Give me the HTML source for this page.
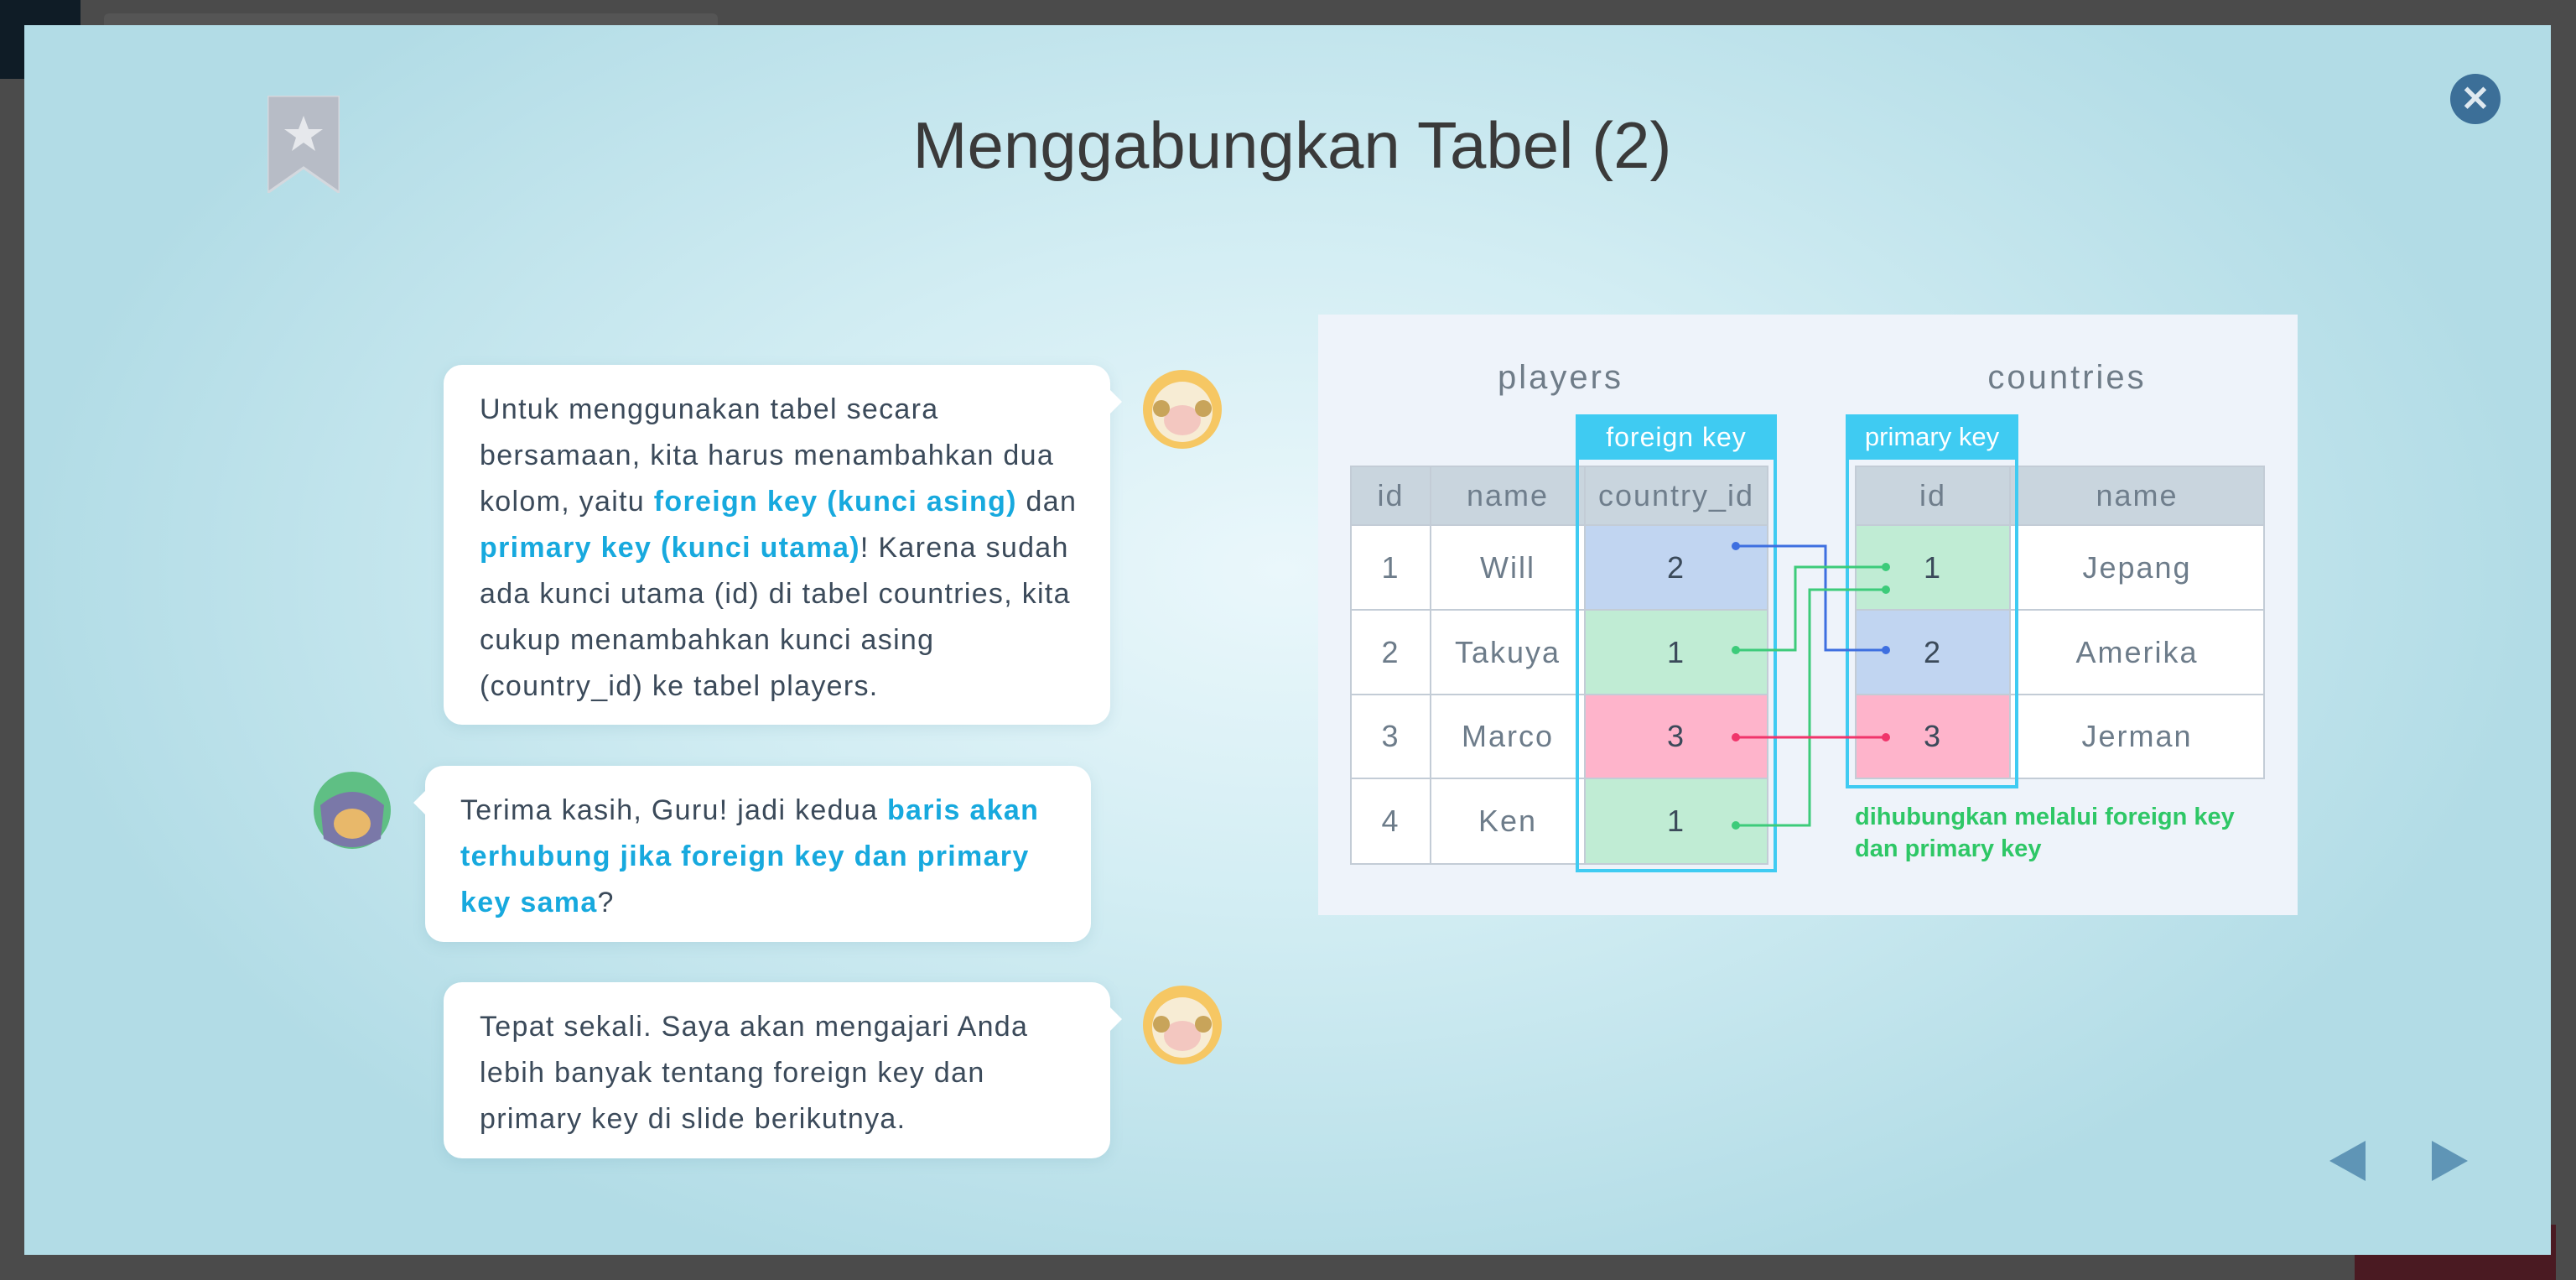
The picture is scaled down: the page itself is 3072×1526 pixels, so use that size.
<!DOCTYPE html>
<html><head><meta charset="utf-8"><style>
*{margin:0;padding:0;box-sizing:border-box}
body{width:3072px;height:1526px;background:#4b4b4b;position:relative;overflow:hidden;font-family:"Liberation Sans",sans-serif}
.abs{position:absolute}
#modal{left:29px;top:30px;width:3013px;height:1466px;background:radial-gradient(ellipse 1500px 900px at 1500px 650px,#eaf7fb 0%,#d2edf3 45%,#b2dce6 100%)}
.bubble{position:absolute;background:#fff;border-radius:22px;font-size:34px;line-height:55px;color:#3b4a5a;box-shadow:0 4px 16px rgba(80,140,160,.15);letter-spacing:1.3px}
.bubble b{color:#17a9de}
.tailR::after{content:"";position:absolute;right:-14px;top:28px;border:16px solid transparent;border-left:16px solid #fff;border-right:0}
.tailL::after{content:"";position:absolute;left:-14px;top:28px;border:16px solid transparent;border-right:16px solid #fff;border-left:0}
.cell{position:absolute;display:flex;align-items:center;justify-content:center;font-size:36px;color:#6d7c8a;border:2px solid #c3ccd6;letter-spacing:2px}
.hd{background:#c9d5de;color:#6f7e8c}
</style></head><body>
<div class="abs" style="left:0;top:0;width:96px;height:94px;background:#0f1c26"></div>
<div class="abs" style="left:124px;top:16px;width:732px;height:20px;background:#555;border-radius:6px"></div>
<div class="abs" style="left:2808px;top:1460px;width:240px;height:66px;background:#4a1a22"></div>
<div id="modal" class="abs"></div>
<svg class="abs" style="left:319px;top:114px" width="86" height="116"><polygon points="0,0 86,0 86,116 43,86 0,116" fill="#b7bcc6" stroke="#d4d8de" stroke-width="3"/><polygon points="43,24 49,40 66,40 52,50 57,66 43,56 29,66 34,50 20,40 37,40" fill="#e6e8ec"/></svg>
<div class="abs" style="left:0;width:3072px;top:128px;text-align:center;font-size:78px;color:#3a3a3a;padding-left:10px">Menggabungkan Tabel (2)</div>
<div class="abs" style="left:2922px;top:88px;width:60px;height:60px;border-radius:50%;background:#3c6f98;color:#dfe9f0;font-size:42px;line-height:60px;text-align:center;font-weight:bold">✕</div>

<div class="bubble tailR" style="left:529px;top:435px;width:795px;height:429px;padding:26px 0 0 43px">Untuk menggunakan tabel secara<br>bersamaan, kita harus menambahkan dua<br>kolom, yaitu <b>foreign key (kunci asing)</b> dan<br><b>primary key (kunci utama)</b>! Karena sudah<br>ada kunci utama (id) di tabel countries, kita<br>cukup menambahkan kunci asing<br>(country_id) ke tabel players.</div>
<div class="bubble tailL" style="left:507px;top:913px;width:794px;height:210px;padding:26px 0 0 42px">Terima kasih, Guru! jadi kedua <b>baris akan<br>terhubung jika foreign key dan primary<br>key sama</b>?</div>
<div class="bubble tailR" style="left:529px;top:1171px;width:795px;height:210px;padding:26px 0 0 43px">Tepat sekali. Saya akan mengajari Anda<br>lebih banyak tentang foreign key dan<br>primary key di slide berikutnya.</div>

<svg class="abs" style="left:1363px;top:441px" width="94" height="94"><circle cx="47" cy="47" r="47" fill="#f6c763"/><circle cx="47" cy="50" r="36" fill="#f7ecd4"/><ellipse cx="47" cy="60" rx="22" ry="18" fill="#f3c7c0"/><circle cx="22" cy="46" r="10" fill="#c8a45a"/><circle cx="72" cy="46" r="10" fill="#c8a45a"/></svg>
<svg class="abs" style="left:1363px;top:1175px" width="94" height="94"><circle cx="47" cy="47" r="47" fill="#f6c763"/><circle cx="47" cy="50" r="36" fill="#f7ecd4"/><ellipse cx="47" cy="60" rx="22" ry="18" fill="#f3c7c0"/><circle cx="22" cy="46" r="10" fill="#c8a45a"/><circle cx="72" cy="46" r="10" fill="#c8a45a"/></svg>
<svg class="abs" style="left:374px;top:920px" width="92" height="92"><circle cx="46" cy="46" r="46" fill="#5fbf84"/><path d="M8,40 Q46,8 84,40 L80,80 Q46,100 12,80Z" fill="#7a78a8"/><ellipse cx="46" cy="62" rx="22" ry="18" fill="#e8b86a"/></svg>

<div class="abs" style="left:1572px;top:375px;width:1168px;height:716px;background:#eef3fa"></div>
<div class="abs" style="left:1761px;top:428px;width:200px;text-align:center;font-size:40px;color:#6f7c88;letter-spacing:3px">players</div>
<div class="abs" style="left:2365px;top:428px;width:200px;text-align:center;font-size:40px;color:#6f7c88;letter-spacing:3px">countries</div>

<div class="cell hd" style="left:1610px;top:555px;width:97px;height:72px">id</div>
<div class="cell hd" style="left:1705px;top:555px;width:186px;height:72px">name</div>
<div class="cell hd" style="left:1889px;top:555px;width:220px;height:72px">country_id</div>
<div class="cell hd" style="left:2212px;top:555px;width:186px;height:72px">id</div>
<div class="cell hd" style="left:2396px;top:555px;width:305px;height:72px">name</div>

<div class="cell" style="left:1610px;top:625px;width:97px;height:103px;background:#fff">1</div>
<div class="cell" style="left:1705px;top:625px;width:186px;height:103px;background:#fff">Will</div>
<div class="cell" style="left:1889px;top:625px;width:220px;height:103px;background:#c1d5f1;color:#3b4a5a">2</div>
<div class="cell" style="left:1610px;top:726px;width:97px;height:103px;background:#fff">2</div>
<div class="cell" style="left:1705px;top:726px;width:186px;height:103px;background:#fff">Takuya</div>
<div class="cell" style="left:1889px;top:726px;width:220px;height:103px;background:#c0ecd4;color:#3b4a5a">1</div>
<div class="cell" style="left:1610px;top:827px;width:97px;height:102px;background:#fff">3</div>
<div class="cell" style="left:1705px;top:827px;width:186px;height:102px;background:#fff">Marco</div>
<div class="cell" style="left:1889px;top:827px;width:220px;height:102px;background:#feb4cb;color:#3b4a5a">3</div>
<div class="cell" style="left:1610px;top:927px;width:97px;height:104px;background:#fff">4</div>
<div class="cell" style="left:1705px;top:927px;width:186px;height:104px;background:#fff">Ken</div>
<div class="cell" style="left:1889px;top:927px;width:220px;height:104px;background:#c0ecd4;color:#3b4a5a">1</div>

<div class="cell" style="left:2212px;top:625px;width:186px;height:103px;background:#c0ecd4;color:#3b4a5a">1</div>
<div class="cell" style="left:2396px;top:625px;width:305px;height:103px;background:#fff">Jepang</div>
<div class="cell" style="left:2212px;top:726px;width:186px;height:103px;background:#c1d5f1;color:#3b4a5a">2</div>
<div class="cell" style="left:2396px;top:726px;width:305px;height:103px;background:#fff">Amerika</div>
<div class="cell" style="left:2212px;top:827px;width:186px;height:102px;background:#feb4cb;color:#3b4a5a">3</div>
<div class="cell" style="left:2396px;top:827px;width:305px;height:102px;background:#fff">Jerman</div>

<div class="abs" style="left:1879px;top:494px;width:240px;height:546px;border:4px solid #3fcbf2"></div>
<div class="abs" style="left:1879px;top:494px;width:240px;height:54px;background:#3fcbf2;color:#fff;font-size:32px;line-height:54px;text-align:center;letter-spacing:1px">foreign key</div>
<div class="abs" style="left:2201px;top:494px;width:206px;height:446px;border:4px solid #3fcbf2"></div>
<div class="abs" style="left:2201px;top:494px;width:206px;height:54px;background:#3fcbf2;color:#fff;font-size:31px;line-height:54px;text-align:center">primary key</div>

<svg class="abs" style="left:0;top:0" width="3072" height="1526">
<g fill="none" stroke-width="3">
<polyline points="2070,651 2177,651 2177,775 2249,775" stroke="#3e6fe0"/>
<polyline points="2070,775 2141,775 2141,676 2249,676" stroke="#3dcb7a"/>
<polyline points="2070,984 2158,984 2158,703 2249,703" stroke="#3dcb7a"/>
<polyline points="2070,879 2249,879" stroke="#f0356b"/>
</g>
<g><circle cx="2070" cy="651" r="5" fill="#3e6fe0"/><circle cx="2249" cy="775" r="5" fill="#3e6fe0"/>
<circle cx="2070" cy="775" r="5" fill="#3dcb7a"/><circle cx="2249" cy="676" r="5" fill="#3dcb7a"/>
<circle cx="2070" cy="984" r="5" fill="#3dcb7a"/><circle cx="2249" cy="703" r="5" fill="#3dcb7a"/>
<circle cx="2070" cy="879" r="5" fill="#f0356b"/><circle cx="2249" cy="879" r="5" fill="#f0356b"/></g>
<polygon points="2821,1360 2821,1408 2778,1384" fill="#5f95b6"/>
<polygon points="2900,1360 2900,1408 2943,1384" fill="#5f95b6"/>
</svg>
<div class="abs" style="left:2212px;top:955px;font-size:29px;line-height:38px;color:#2ec766;font-weight:bold">dihubungkan melalui foreign key<br>dan primary key</div>
</body></html>
